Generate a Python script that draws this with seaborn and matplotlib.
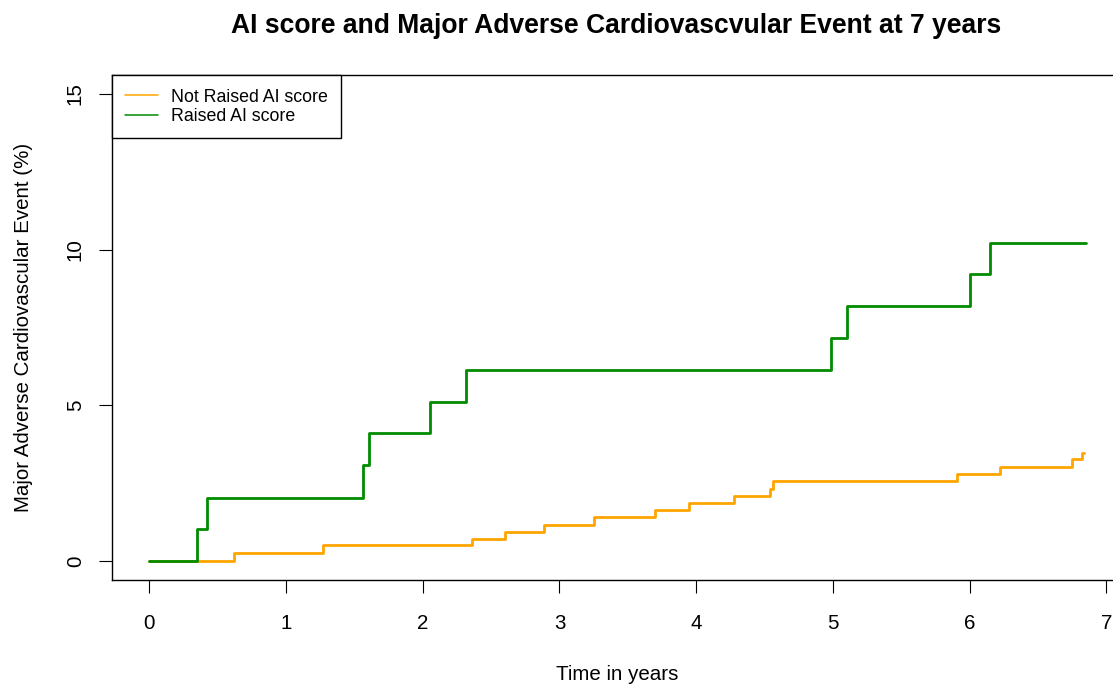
import matplotlib
matplotlib.use("Agg")
import matplotlib.pyplot as plt
from matplotlib.lines import Line2D
import numpy as np
import pandas as pd
import seaborn as sns

# ---- data ----
groups = ["Not Raised AI score", "Raised AI score"]
colors = ["#FFA500", "#008B00"]

not_raised_time = [0, 0.62, 1.27, 2.36, 2.60, 2.89, 3.25, 3.70, 3.95, 4.28,
                   4.54, 4.56, 5.91, 6.22, 6.75, 6.82, 6.84]
not_raised_pct = [0, 0.25, 0.51, 0.72, 0.94, 1.16, 1.42, 1.64, 1.86, 2.08,
                  2.31, 2.56, 2.78, 3.01, 3.27, 3.48, 3.48]

raised_time = [0, 0.35, 0.42, 1.56, 1.61, 2.05, 2.32, 4.99, 5.10, 6.00, 6.15, 6.85]
raised_pct = [0, 1.02, 2.04, 3.08, 4.10, 5.12, 6.14, 7.16, 8.19, 9.21, 10.23, 10.23]

x_ticks = [0, 1, 2, 3, 4, 5, 6, 7]
y_ticks = [0, 5, 10, 15]

title = "AI score and Major Adverse Cardiovascvular Event at 7 years"
x_label = "Time in years"
y_label = "Major Adverse Cardiovascular Event (%)"

df = pd.concat([
    pd.DataFrame({"time": not_raised_time, "pct": not_raised_pct, "group": groups[0]}),
    pd.DataFrame({"time": raised_time, "pct": raised_pct, "group": groups[1]}),
], ignore_index=True)

# ---- style ----
sns.set_style("ticks")
plt.rcParams["font.family"] = ["Liberation Sans", "DejaVu Sans"]
plt.rcParams["text.color"] = "black"
plt.rcParams["axes.labelcolor"] = "black"
plt.rcParams["xtick.color"] = "black"
plt.rcParams["ytick.color"] = "black"

fig = plt.figure(figsize=(11.13, 6.84), dpi=100)
ax = fig.add_axes([0.1005, 0.1525, 0.9087, 0.7373])

palette = dict(zip(groups, colors))
sns.lineplot(data=df, x="time", y="pct", hue="group", hue_order=groups,
             palette=palette, estimator=None, sort=False,
             drawstyle="steps-post", linewidth=2.0, legend=False, ax=ax)

ax.set_xlim(-0.274, 7.124)
ax.set_ylim(-0.6, 15.6)
ax.set_xticks(x_ticks)
ax.set_xticklabels([str(v) for v in x_ticks])
ax.set_yticks(y_ticks)
ax.set_yticklabels([str(v) for v in y_ticks], rotation=90, va="center")

for s in ax.spines.values():
    s.set_visible(True)
    s.set_color("black")
    s.set_linewidth(1.0)

ax.tick_params(axis="both", direction="out", length=9.4, width=0.8,
               labelsize=14.8, colors="black")
ax.tick_params(axis="x", pad=15)
ax.tick_params(axis="y", pad=10)

ax.set_xlabel(x_label, fontsize=14.8, va="center")
ax.xaxis.set_label_coords(0.5, -0.1875)
ax.set_ylabel(y_label, fontsize=14.8, va="center")
ax.yaxis.set_label_coords(-0.0870, 0.5)

ax.set_title(title, fontsize=19.1, fontweight="bold", x=0.4984, y=1.097,
             va="center", pad=0)

handles = [Line2D([0], [0], color=c, lw=1.1) for c in colors]
leg = ax.legend(handles, groups, loc="upper left", bbox_to_anchor=(0, 1),
                borderaxespad=0, fontsize=12.8, frameon=True, fancybox=False,
                edgecolor="black", framealpha=1, borderpad=0.75,
                handlelength=1.85, handletextpad=0.73, labelspacing=0.13)
leg.get_frame().set_linewidth(1.0)

fig.savefig("out.png", dpi=100)
